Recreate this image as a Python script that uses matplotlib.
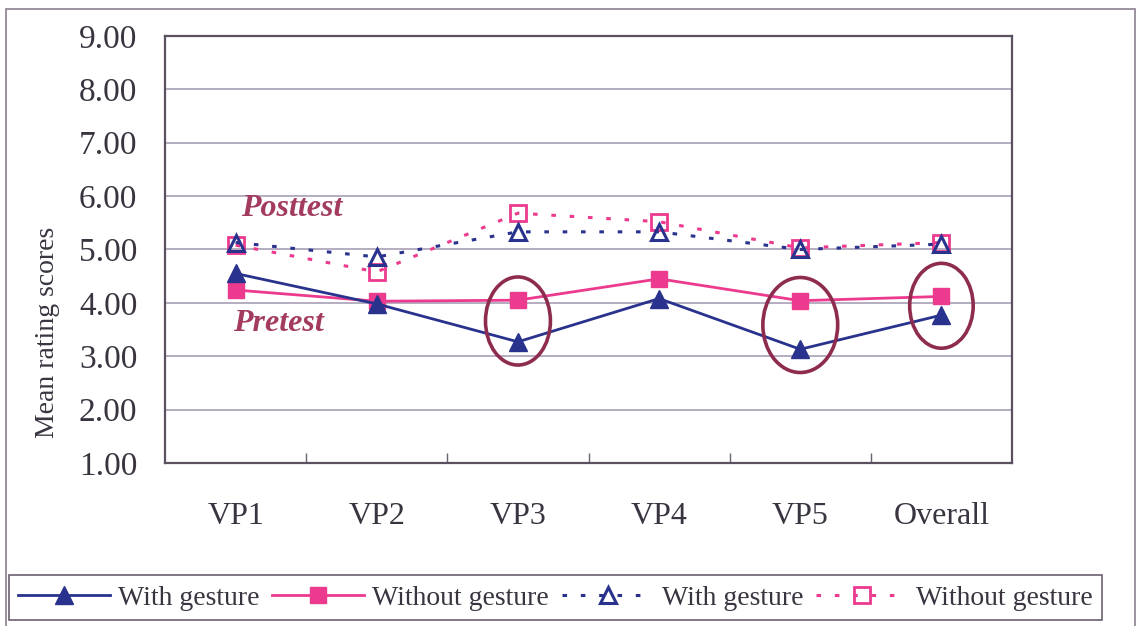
import matplotlib
matplotlib.use("Agg")
import matplotlib.pyplot as plt
from matplotlib.patches import Ellipse, Rectangle

# Categories and mean rating scores
categories = ["VP1", "VP2", "VP3", "VP4", "VP5", "Overall"]
pre_with = [4.55, 3.98, 3.27, 4.08, 3.13, 3.77]
pre_without = [4.24, 4.03, 4.05, 4.45, 4.04, 4.12]
post_with = [5.13, 4.86, 5.33, 5.33, 5.00, 5.10]
post_without = [5.08, 4.58, 5.68, 5.52, 5.03, 5.13]
yticks = [1, 2, 3, 4, 5, 6, 7, 8, 9]
highlighted = ["VP3", "VP5", "Overall"]

BLUE = "#29328C"
PINK = "#EC3A8E"
MAROON = "#8E2C50"
LABEL = "#A33A60"
GRID = "#A89FB6"
TEXT = "#3A3440"

plt.rcParams["font.family"] = ["Liberation Serif", "DejaVu Serif"]

fig = plt.figure(figsize=(11.43, 6.26), dpi=100)
ax = fig.add_axes([0.1444, 0.2604, 0.7410, 0.6822])

x = list(range(len(categories)))

ax.plot(x, pre_with, color=BLUE, lw=2, marker="^", ms=13,
        mfc=BLUE, mec=BLUE, label="With gesture", zorder=4)
ax.plot(x, pre_without, color=PINK, lw=2, marker="s", ms=11.5,
        mfc=PINK, mec=PINK, label="Without gesture", zorder=3)
ax.plot(x, post_with, color=BLUE, lw=2.2, ls=(0, (1.5, 4.5)), marker="^",
        ms=11.5, mfc="none", mec=BLUE, mew=2.2, label="With gesture", zorder=4)
ax.plot(x, post_without, color=PINK, lw=2.2, ls=(0, (1.5, 4.5)), marker="s",
        ms=11.5, mfc="none", mec=PINK, mew=2, label="Without gesture", zorder=3)

# Circles marking the categories with the widest pretest gap
ell_sizes = {"VP3": (0.46, 1.65), "VP5": (0.53, 1.78), "Overall": (0.45, 1.59)}
for name in highlighted:
    i = categories.index(name)
    cy = (pre_with[i] + pre_without[i]) / 2
    w, h = ell_sizes[name]
    ax.add_patch(Ellipse((i, cy), w, h, fill=False, ec=MAROON, lw=2.6, zorder=5))

ax.text(0.40, 5.76, "Posttest", color=LABEL, fontsize=23, fontweight="bold",
        fontstyle="italic", ha="center", va="center")
ax.text(0.30, 3.62, "Pretest", color=LABEL, fontsize=23, fontweight="bold",
        fontstyle="italic", ha="center", va="center")

ax.set_xlim(-0.5, len(categories) - 0.5)
ax.set_ylim(1, 9)
ax.set_yticks(yticks)
ax.set_yticklabels([f"{v:.2f}" for v in yticks], fontsize=24, color=TEXT)
ax.yaxis.grid(True, color=GRID, lw=1.2)
ax.set_axisbelow(True)
ax.tick_params(axis="y", length=0, pad=20)

ax.set_xticks(x)
ax.set_xticklabels(categories, fontsize=23, color=TEXT)
ax.set_xticks([i + 0.5 for i in x[:-1]], minor=True)
ax.tick_params(axis="x", which="major", length=0, pad=28)
ax.tick_params(axis="x", which="minor", direction="in", length=7,
               color="#6A6070", width=1)

for sp in ax.spines.values():
    sp.set_color("#5A5060")
    sp.set_linewidth(1.6)

ax.set_ylabel("Mean rating scores", fontsize=20, color=TEXT)
ax.yaxis.set_label_coords(-0.124, 0.305)

# Outer chart frame
fig.patches.append(Rectangle((0.005, -0.01), 0.988, 0.995, transform=fig.transFigure,
                             fill=False, ec="#8A8090", lw=1.2))

leg = fig.legend(loc="center", bbox_to_anchor=(0.486, 0.045), ncol=4,
                 fontsize=20, handlelength=3.3, handletextpad=0.3,
                 columnspacing=0.45, borderpad=0.35, fancybox=False,
                 edgecolor="#6A6070", framealpha=1)
leg.get_frame().set_linewidth(1.2)
for t in leg.get_texts():
    t.set_color(TEXT)

fig.savefig("out.png", dpi=100)
